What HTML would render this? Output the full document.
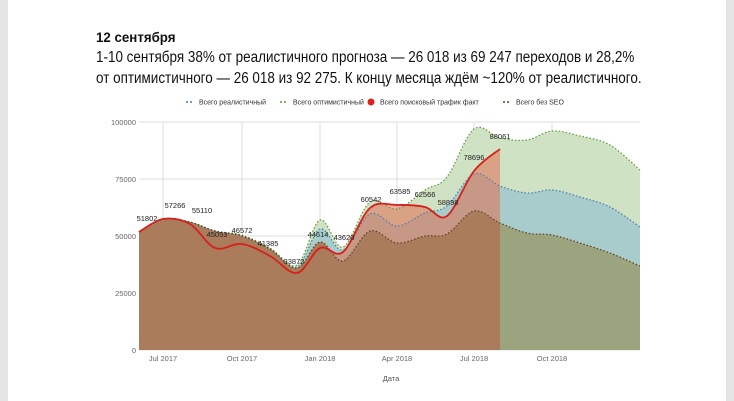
<!DOCTYPE html>
<html><head><meta charset="utf-8"><style>
body{margin:0;width:734px;height:401px;background:#fff;overflow:hidden;font-family:"Liberation Sans",sans-serif;position:relative}
.edge{position:absolute;top:0;bottom:0;width:8px;background:#e4e4e4}
.t{position:absolute;left:96px;color:#111;transform-origin:0 0;white-space:nowrap}
</style></head><body>
<div class="edge" style="left:0"></div><div class="edge" style="right:0"></div>
<div class="t" style="top:29px;font-size:14px;font-weight:bold;transform:scaleX(0.95)">12 сентября</div>
<div class="t" style="top:47px;font-size:15.3px;line-height:21px;transform:scaleX(0.88)">1-10 сентября 38% от реалистичного прогноза — 26 018 из 69 247 переходов и 28,2%<br>от оптимистичного — 26 018 из 92 275. К концу месяца ждём ~120% от реалистичного.</div>
<svg id="s" width="734" height="401" style="position:absolute;left:0;top:0" font-family="Liberation Sans,sans-serif"></svg>
<script>
const s=document.getElementById('s');let h='';
const Y=v=>350-v*0.00228;
function cr(p){let d='M'+p[0][0]+','+p[0][1];for(let i=0;i<p.length-1;i++){const a=p[i-1]||p[i],b=p[i],c=p[i+1],e=p[i+2]||c;d+=`C${b[0]+(c[0]-a[0])/6},${b[1]+(c[1]-a[1])/6} ${c[0]-(e[0]-b[0])/6},${c[1]-(e[1]-b[1])/6} ${c[0]},${c[1]}`;}return d;}
const xs=[139,163,190,215,242,270,297,320,343,370,397,425,447,474,500,527,552,580,610,640];
const red=[232,219,224,248,244,256,273,248,252,208,205,207,216,171,149];
const br=[232,219,222,231,236,249,268,242,261,231,243,236,234,211,223,233,235,243,253,266];
const bl=[232,219,222,231,236,249,267,229,250,214,226,213,206,174,186,193,190,197,207,227];
const gr=[232,219,222,231,235,248,265,220,247,202,209,190,177,129,138,140,131,136,145,170];
const P=a=>a.map((y,i)=>[xs[i],y]);
const area=(a,c)=>`<path d="${cr(P(a))}L${xs[a.length-1]},350L139,350Z" fill="${c}"/>`;
[0,25000,50000,75000,100000].forEach(v=>{h+=`<line x1="139" x2="640" y1="${Y(v)}" y2="${Y(v)}" stroke="#ddd"/><text x="136" y="${Y(v)+3}" font-size="7.5" fill="#666" text-anchor="end">${v}</text>`});
[[163,'Jul 2017'],[242,'Oct 2017'],[320,'Jan 2018'],[397,'Apr 2018'],[474,'Jul 2018'],[552,'Oct 2018']].forEach(([x,t])=>{h+=`<line x1="${x}" x2="${x}" y1="122" y2="350" stroke="#ddd"/><text x="${x}" y="361" font-size="7.5" fill="#666" text-anchor="middle">${t}</text>`});
h+=area(gr,'rgb(207,226,196)');
h+=area(bl,'rgb(168,204,203)');
h+=`<clipPath id="c"><rect x="0" y="0" width="500" height="401"/></clipPath>`;
h+=`<g clip-path="url(#c)">`+area(red,'rgba(225,110,80,0.55)')+`</g>`;
h+=area(br,'rgb(156,163,127)');
h+=`<g clip-path="url(#c)">`+area(br,'rgb(170,124,92)')+`</g>`;
h+=`<path d="${cr(P(gr))}" fill="none" stroke="#5a9a3a" stroke-width="1.2" stroke-dasharray="1.5,2"/>`;
h+=`<path d="${cr(P(bl))}" fill="none" stroke="#4a7ab0" stroke-width="1.2" stroke-dasharray="1.5,2"/>`;
h+=`<path d="${cr(P(br))}" fill="none" stroke="#5a4020" stroke-width="1.2" stroke-dasharray="1.5,2"/>`;
h+=`<path d="${cr(P(red))}" fill="none" stroke="#d6201a" stroke-width="1.8"/>`;
[[147,'51802',221],[175,'57266',208],[202,'55110',213],[217,'45053',237],[242,'46572',233],[268,'41385',246],[294,'33872',264],[318,'44614',237],[344,'43620',240],[371,'60542',202],[400,'63585',194],[425,'62566',197],[448,'58898',205],[474,'78696',160],[500,'88061',139]].forEach(([x,t,y])=>{h+=`<text x="${x}" y="${y}" font-size="7.5" fill="#222" text-anchor="middle">${t}</text>`});
h+=`<text x="391" y="381" font-size="7.5" fill="#555" text-anchor="middle">Дата</text>`;
const lg=[[186,'#4a7ab0','Всего реалистичный',0],[280,'#5a9a3a','Всего оптимистичный',0],[367,'#e0201a','Всего поисковый трафик факт',1],[503,'#5a4020','Всего без SEO',0]];
lg.forEach(([x,c,t,dot])=>{h+= dot?`<circle cx="${x+4}" cy="102" r="3.5" fill="${c}"/>`:`<circle cx="${x+1}" cy="102" r="1" fill="${c}"/><circle cx="${x+5}" cy="102" r="1" fill="${c}"/>`;h+=`<text x="${x+13}" y="104.5" font-size="7" fill="#333">${t}</text>`});
s.innerHTML=h;
</script>
</body></html>
